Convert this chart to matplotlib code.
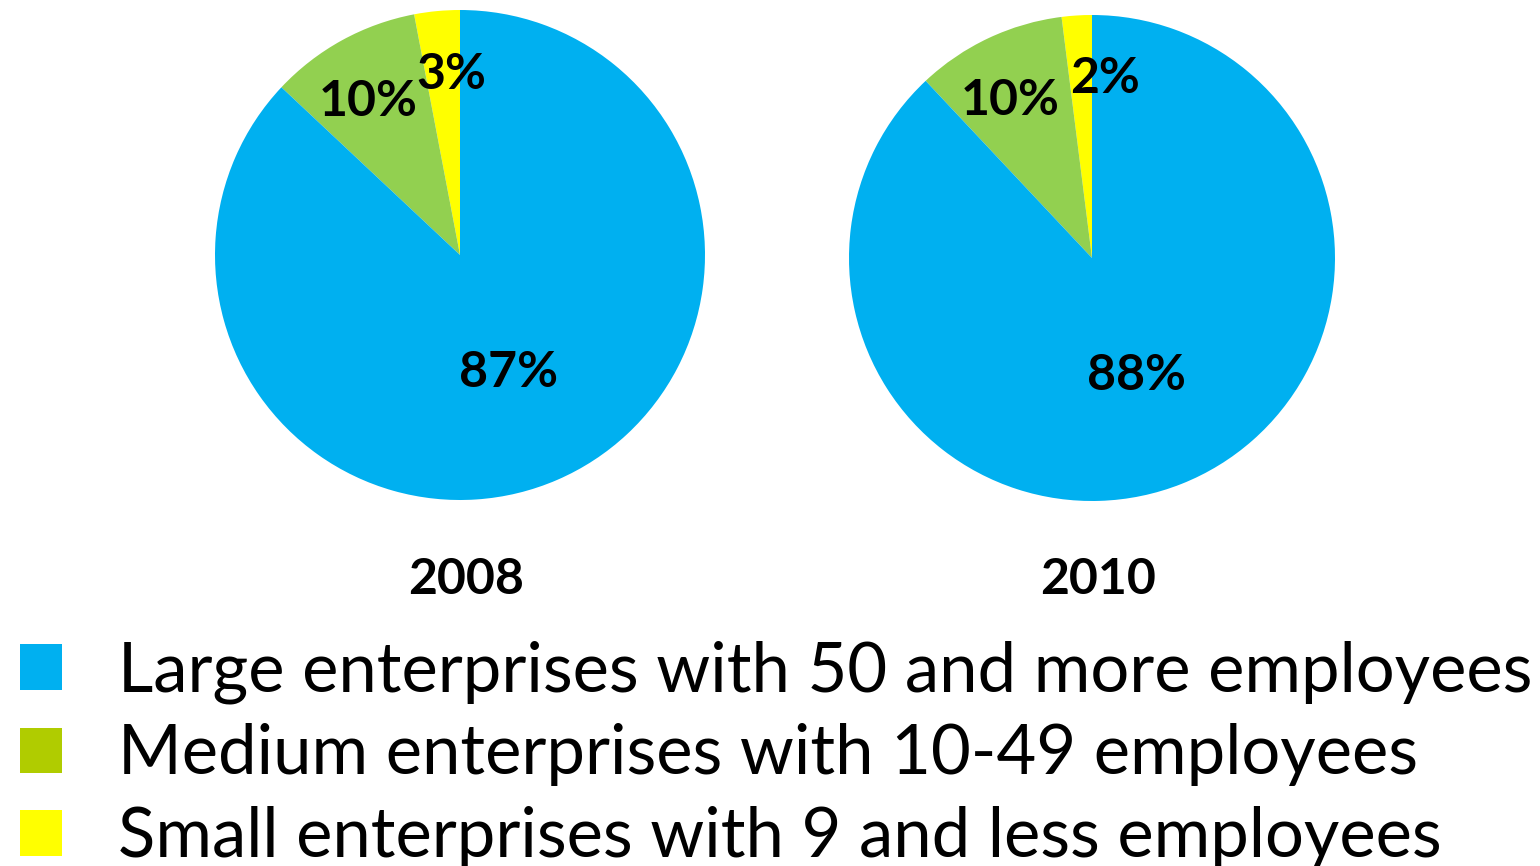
import matplotlib.pyplot as plt
from matplotlib.patches import Patch
import numpy as np

# data
categories = ['Large enterprises with 50 and more employees',
              'Medium enterprises with 10-49 employees',
              'Small enterprises with 9 and less employees']
years = ['2008', '2010']
shares_2008 = [87, 10, 3]
shares_2010 = [88, 10, 2]

pie_colors = ['#00B0F0', '#92D050', '#FFFF00']
legend_colors = ['#00B0F0', '#B0CC00', '#FFFF00']

plt.rcParams['font.family'] = ['Lato', 'DejaVu Sans']

fig = plt.figure(figsize=(15.4, 8.66), dpi=100)
W, H = 1540, 866


def pie_axes(cx, cy, r):
    return fig.add_axes([(cx - r) / W, 1 - (cy + r) / H, 2 * r / W, 2 * r / H])


# label distance for each wedge (large, medium, small) and small x nudges
label_dist = [0.5, 0.74, 0.76]
label_nudge = {'2008': [0.0, -0.02, 0.035], '2010': [0.0, -0.02, 0.1]}

boxes = [(460, 255, 245), (1092, 258, 243)]
for year, shares, (cx, cy, r) in zip(years, [shares_2008, shares_2010], boxes):
    ax = pie_axes(cx, cy, r)
    # order: small, medium, large going counterclockwise from top
    wedges, _ = ax.pie(shares[::-1], colors=pie_colors[::-1], startangle=90,
                       counterclock=True, radius=1.0,
                       wedgeprops=dict(linewidth=0))
    for w, val, d, nx in zip(wedges, shares[::-1], label_dist[::-1], label_nudge[year][::-1]):
        ang = np.deg2rad((w.theta1 + w.theta2) / 2)
        ax.text(d * np.cos(ang) + nx, d * np.sin(ang) - 0.02, f'{val}%',
                ha='center', va='center', fontsize=36, fontweight='bold')
    ax.set_xlim(-1, 1)
    ax.set_ylim(-1, 1)
    ax.set_aspect('auto')
    ax.axis('off')
    fig.text((cx + 6) / W, 1 - 579 / H, year, ha='center', va='center',
             fontsize=36, fontweight='bold')

handles = [Patch(facecolor=c, edgecolor='none') for c in legend_colors]
fig.legend(handles, categories, loc='upper left', bbox_to_anchor=(0.013, 1 - 640 / H),
           frameon=False, fontsize=49.5, handlelength=0.61, handleheight=0.64,
           handletextpad=0.81, labelspacing=0.29, borderaxespad=0, borderpad=0)

fig.savefig('out.png', dpi=100)
